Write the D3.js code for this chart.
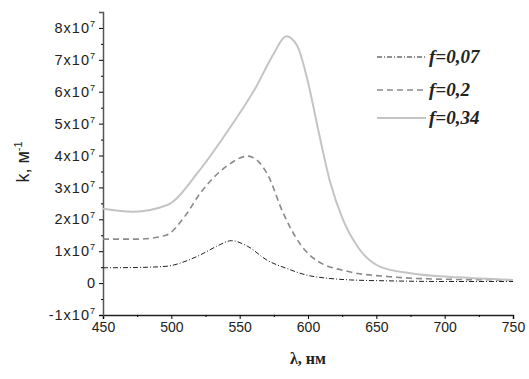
<!DOCTYPE html>
<html>
<head>
<meta charset="utf-8">
<script src="https://cdn.jsdelivr.net/npm/d3@7"></script>
<style>
  body { margin: 0; background: #fff; }
  svg { display: block; }
</style>
</head>
<body>
<svg id="chart" width="529" height="379"></svg>
<script>
// wavelength, nm / k values in units of 1e7 m^-1
const lam007 = [450, 475, 497, 510, 521, 533, 544, 556, 570, 585, 599, 615, 631, 660, 700, 750];
const k007   = [0.48, 0.49, 0.53, 0.68, 0.88, 1.15, 1.33, 1.15, 0.72, 0.45, 0.25, 0.15, 0.1, 0.07, 0.05, 0.05];

const lam02 = [450, 475, 496, 510, 521, 540, 556, 570, 582, 594, 606, 631, 660, 700, 750];
const k02   = [1.38, 1.38, 1.5, 2.1, 2.81, 3.65, 3.98, 3.44, 2.18, 1.24, 0.72, 0.35, 0.2, 0.12, 0.1];

const lam034 = [450, 472, 497, 520, 540, 562, 575, 584, 592, 600, 608, 616, 625, 637, 653, 675, 710, 750];
const k034   = [2.33, 2.24, 2.45, 3.5, 4.69, 6.15, 7.2, 7.74, 7.45, 6.3, 4.7, 3.2, 2.05, 1.1, 0.51, 0.31, 0.18, 0.1];

const xTicks = [450, 500, 550, 600, 650, 700, 750];
const yTicks = [-1, 0, 1, 2, 3, 4, 5, 6, 7, 8];
const legendLabels = ["f=0,07", "f=0,2", "f=0,34"];

const svg = d3.select("#chart");
const margin = { left: 103, right: 16, top: 12, bottom: 64 };
const width = 529 - margin.left - margin.right;
const height = 379 - margin.top - margin.bottom;

const x = d3.scaleLinear().domain([450, 750]).range([margin.left, margin.left + width]);
const y = d3.scaleLinear().domain([-1, 8.5]).range([margin.top + height, margin.top]);

// axes
const xAxis = svg.append("g")
  .attr("transform", `translate(0,${margin.top + height})`)
  .call(d3.axisBottom(x).tickValues(xTicks).tickSize(4).tickPadding(3));
xAxis.select(".domain").attr("stroke", "#222").attr("stroke-width", 1.5);
xAxis.selectAll("text").attr("font-family", "Liberation Sans, Arial").attr("font-size", 14).attr("fill", "#222");

svg.append("g")
  .attr("transform", `translate(0,${margin.top + height})`)
  .call(d3.axisBottom(x).tickValues(d3.range(475, 750, 50)).tickSize(2).tickFormat(""))
  .call(g => g.select(".domain").remove());

const yAxis = svg.append("g")
  .attr("transform", `translate(${margin.left},0)`)
  .call(d3.axisLeft(y).tickValues(yTicks).tickSize(4).tickPadding(3));
yAxis.select(".domain").attr("stroke", "#555").attr("stroke-width", 1.5);
yAxis.selectAll("text")
  .attr("font-family", "Liberation Sans, Arial").attr("font-size", 14.5).attr("fill", "#222")
  .attr("letter-spacing", 1)
  .each(function (d) {
    const t = d3.select(this);
    t.text(null);
    if (d === 0) { t.text("0"); return; }
    t.append("tspan").text(d + "x10");
    t.append("tspan").attr("font-size", 9).attr("dy", -6).text("7");
  });

svg.append("g")
  .attr("transform", `translate(${margin.left},0)`)
  .call(d3.axisLeft(y).tickValues(d3.range(-0.5, 8.5, 1)).tickSize(2).tickFormat(""))
  .call(g => g.select(".domain").remove());

// axis titles
svg.append("text")
  .attr("transform", "translate(29,162) rotate(-90)")
  .attr("text-anchor", "middle")
  .attr("font-family", "Liberation Sans, Arial").attr("font-size", 18).attr("fill", "#222")
  .call(t => {
    t.append("tspan").text("k, м");
    t.append("tspan").attr("font-size", 11).attr("dy", -7).text("-1");
  });

svg.append("text")
  .attr("x", x(600)).attr("y", 364)
  .attr("text-anchor", "middle")
  .attr("font-family", "Liberation Serif, Times New Roman").attr("font-weight", "bold")
  .attr("font-size", 16).attr("fill", "#222")
  .text("λ, нм");

// curves
const series = [
  { lam: lam007, k: k007, color: "#222", w: 1, dash: "5,2,1,2" },
  { lam: lam02, k: k02, color: "#8a8a8a", w: 1.6, dash: "6,4" },
  { lam: lam034, k: k034, color: "#c4c4c4", w: 2, dash: null }
];

const line = d3.line().curve(d3.curveMonotoneX).x(d => x(d[0])).y(d => y(d[1]));

series.forEach(s => {
  svg.append("path")
    .datum(s.lam.map((l, i) => [l, s.k[i]]))
    .attr("d", line)
    .attr("fill", "none")
    .attr("stroke", s.color)
    .attr("stroke-width", s.w)
    .attr("stroke-dasharray", s.dash);
});

// legend
const legendY = [57, 90, 118];
series.forEach((s, i) => {
  svg.append("line")
    .attr("x1", 377).attr("x2", 426)
    .attr("y1", legendY[i]).attr("y2", legendY[i])
    .attr("stroke", s.color).attr("stroke-width", s.w)
    .attr("stroke-dasharray", s.dash);
  svg.append("text")
    .attr("x", 429).attr("y", legendY[i] + 6)
    .attr("font-family", "Liberation Serif, Times New Roman")
    .attr("font-style", "italic").attr("font-weight", "bold")
    .attr("font-size", 19).attr("fill", "#222")
    .text(legendLabels[i]);
});
</script>
</body>
</html>
